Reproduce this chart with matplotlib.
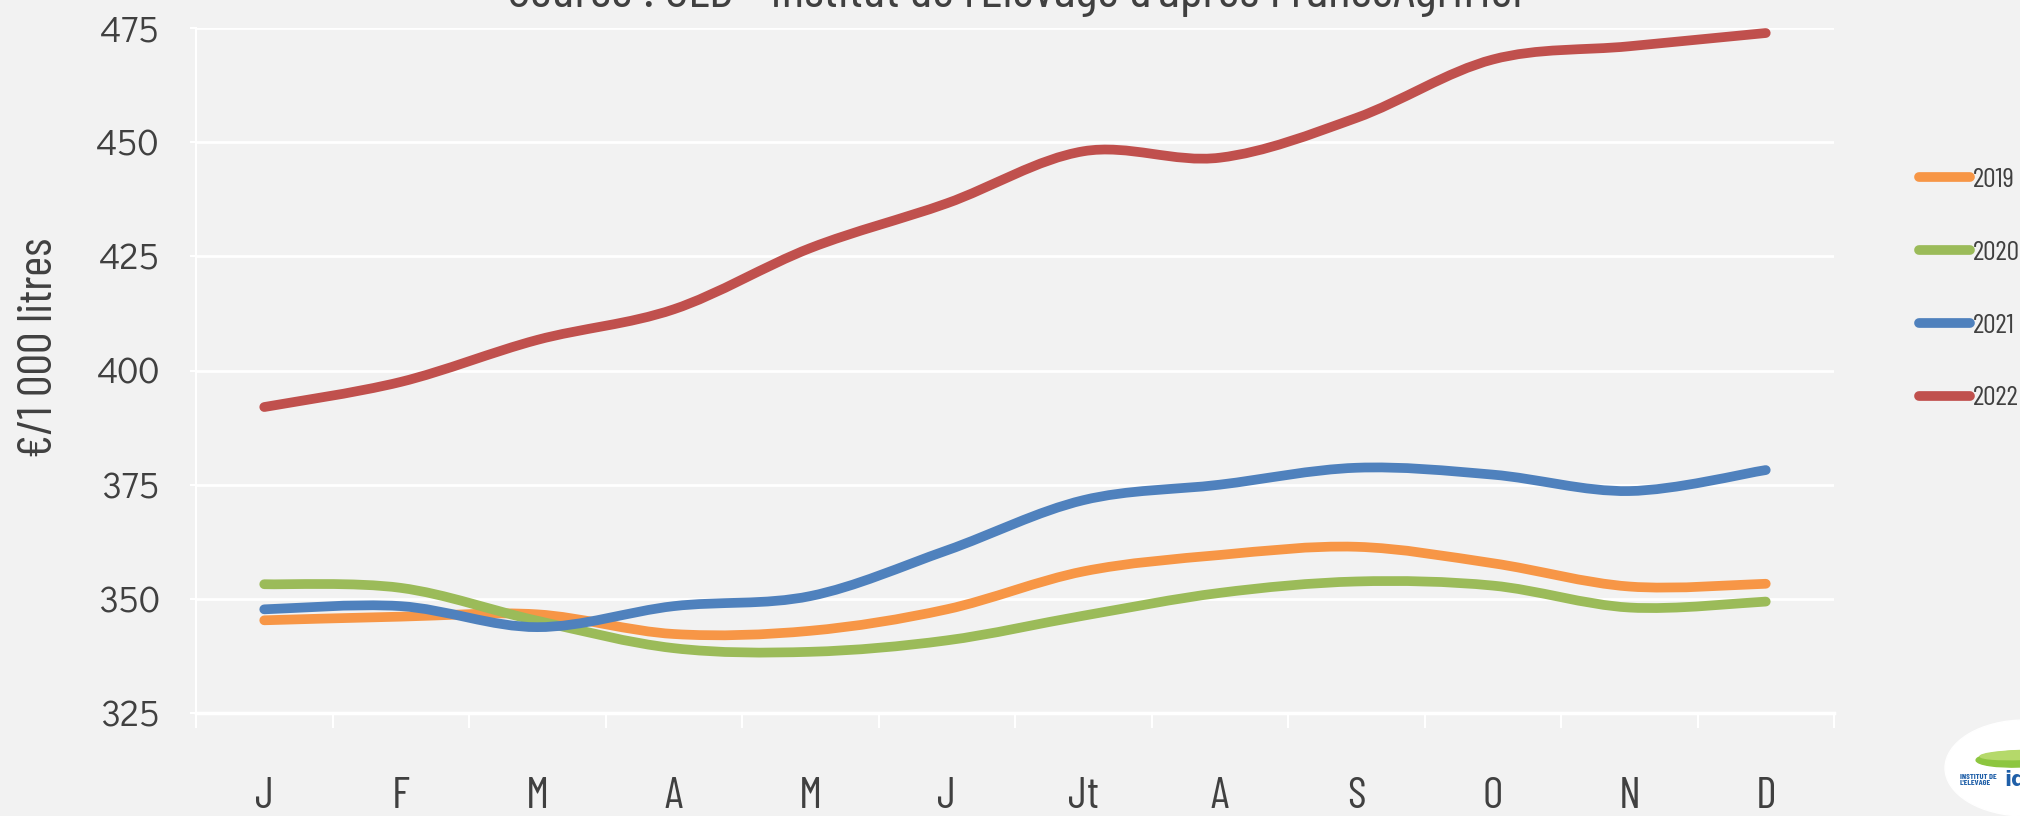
import numpy as np
import matplotlib
matplotlib.use("Agg")
import matplotlib.pyplot as plt
from matplotlib.path import Path
from matplotlib.patches import PathPatch, Ellipse
from matplotlib.lines import Line2D

months = ["J", "F", "M", "A", "M", "J", "Jt", "A", "S", "O", "N", "D"]
years = ["2019", "2020", "2021", "2022"]
p2019 = [345.3, 346.1, 346.6, 342.3, 343.0, 347.7, 356.0, 359.6, 361.4, 357.8, 352.7, 353.3]
p2020 = [353.2, 352.4, 345.2, 339.2, 338.4, 340.9, 346.3, 351.3, 353.8, 352.9, 348.1, 349.4]
p2021 = [347.7, 348.4, 343.8, 348.4, 350.6, 360.6, 371.6, 375.0, 378.7, 377.2, 373.6, 378.2]
p2022 = [392.0, 397.5, 406.7, 413.4, 426.8, 436.6, 448.0, 446.6, 455.3, 468.1, 471.0, 473.9]
colors = ["#f79646", "#9bbb59", "#4f81bd", "#c0504d"]

bg = "#f2f2f2"
txt = "#404040"
narrow = ["Barlow Condensed", "Archivo Narrow", "DejaVu Sans"]
gothic = ["Didact Gothic", "Questrial", "DejaVu Sans"]


def smooth_path(x, y):
    # cubic Bezier through the points, like a spreadsheet "smoothed line"
    x = np.asarray(x, float)
    y = np.asarray(y, float)
    n = len(x)
    verts = [(x[0], y[0])]
    codes = [Path.MOVETO]
    for i in range(n - 1):
        i0 = max(i - 1, 0)
        i3 = min(i + 2, n - 1)
        c1 = (x[i] + (x[i + 1] - x[i0]) / 6, y[i] + (y[i + 1] - y[i0]) / 6)
        c2 = (x[i + 1] - (x[i3] - x[i]) / 6, y[i + 1] - (y[i3] - y[i]) / 6)
        verts += [c1, c2, (x[i + 1], y[i + 1])]
        codes += [Path.CURVE4] * 3
    return Path(verts, codes)


fig = plt.figure(figsize=(20.2, 8.16), dpi=100, facecolor=bg)
ax = fig.add_axes([196 / 2020, 1 - 713 / 816, (1834 - 196) / 2020, (713 - 28) / 816])
ax.set_facecolor(bg)

xs = np.arange(len(months))
handles = []
for lab, vals, c in zip(years, [p2019, p2020, p2021, p2022], colors):
    ax.add_patch(PathPatch(smooth_path(xs, vals), fill=False, edgecolor=c,
                           lw=7, capstyle="round", joinstyle="round", zorder=3))
    handles.append(Line2D([0], [0], color=c, lw=7, solid_capstyle="round"))

ax.set_xlim(-0.5, 11.5)
ax.set_ylim(325, 475)
ax.yaxis.grid(True, color="white", lw=2)
ax.set_axisbelow(True)

for s in ["top", "right"]:
    ax.spines[s].set_visible(False)
ax.spines["left"].set_color("white")
ax.spines["left"].set_linewidth(1.5)
ax.spines["bottom"].set_color("white")
ax.spines["bottom"].set_linewidth(2.5)

ax.set_xticks(xs)
ax.set_xticklabels(months, family=narrow)
ax.set_yticks(np.arange(325, 476, 25))
ax.set_yticklabels([str(v) for v in range(325, 476, 25)], family=gothic)
ax.set_xticks(np.arange(-0.5, 12, 1), minor=True)
ax.tick_params(axis="x", which="major", length=0, pad=46, labelsize=32, labelcolor=txt)
ax.tick_params(axis="x", which="minor", direction="out", length=11, width=1.5, color="white")
ax.tick_params(axis="y", length=4, width=1.5, color="white", pad=22, labelsize=27, labelcolor=txt)

fig.text(40 / 2020, 1 - 348 / 816, "€/1 000 litres", rotation=90, ha="center", va="center",
         fontsize=35, color=txt, family=narrow)

fig.text(1018 / 2020, 1 - 7 / 816, "Source : CLB - Institut de l'Elevage d'après FranceAgriMer",
         ha="center", va="baseline", fontsize=38, color=txt, family=narrow)

fig.legend(handles, years, loc="center left", bbox_to_anchor=(1919 / 2020, 1 - 289 / 816),
           frameon=False, prop={"family": narrow, "size": 20}, labelcolor=txt,
           handlelength=1.85, handletextpad=0.08, labelspacing=1.74, borderpad=0, borderaxespad=0)

# logo corner (partly cut off)
fig.patches.append(Ellipse((2025 / 2020, 1 - 768 / 816), 160 / 2020, 96 / 816,
                           transform=fig.transFigure, color="white", zorder=1))
fig.patches.append(Ellipse((2018 / 2020, 1 - 759 / 816), 84 / 2020, 16 / 816, angle=5,
                           transform=fig.transFigure, color="#8dc63f", zorder=2))
fig.patches.append(Ellipse((2020 / 2020, 1 - 755 / 816), 80 / 2020, 9 / 816, angle=5,
                           transform=fig.transFigure, color="#b5d96a", zorder=2))
fig.text(1960 / 2020, 1 - 780 / 816, "INSTITUT DE\nL'ELEVAGE", fontsize=6, color="#1f5fa8",
         fontweight="bold", family=narrow, ha="left", va="center", linespacing=1.0)
fig.text(2004 / 2020, 1 - 780 / 816, "id", fontsize=15, color="#1f5fa8",
         fontweight="bold", ha="left", va="center")

fig.savefig("out.png", dpi=100, facecolor=bg)
